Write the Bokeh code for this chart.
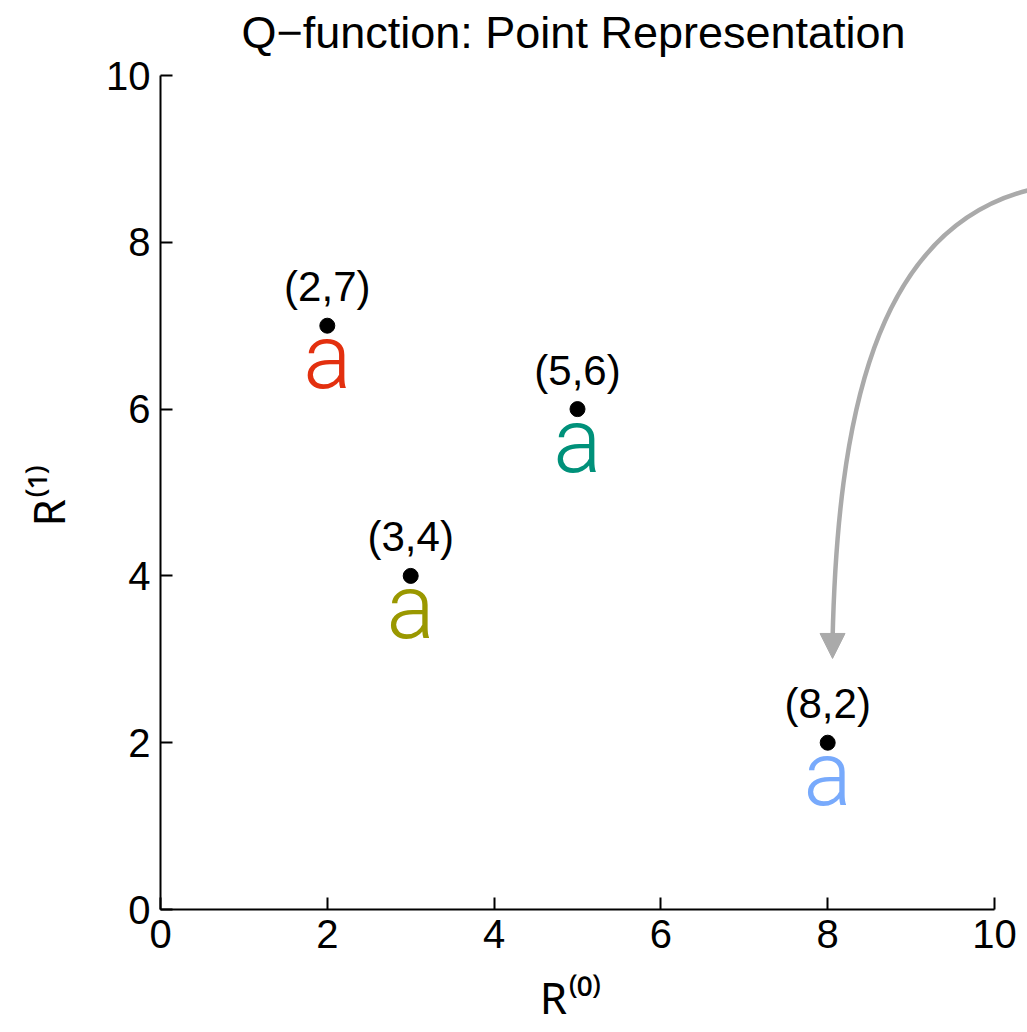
from bokeh.plotting import figure
from bokeh.models import Range1d, FixedTicker, Arrow, NormalHead, ColumnDataSource, Label
from bokeh.core.properties import value
from bokeh.embed import file_html
from bokeh.resources import INLINE

# ---- data ----
r0 = [2, 3, 5, 8]
r1 = [7, 4, 6, 2]
action_colors = ["#e3300f", "#9a9800", "#00917a", "#78aafc"]
action_text = ["a", "a", "a", "a"]
point_labels = [f"({a},{b})" for a, b in zip(r0, r1)]
ticks = [0, 2, 4, 6, 8, 10]

title_text = "Q\u2212function: Point Representation"
xlabel = "R\u207d\u2070\u207e" + "\u00a0" * 4
ylabel = "R\u207d\u00b9\u207e" + "\u00a0" * 7
FONT = "Liberation Sans"
LABEL_FONT = "Noto Sans"

W, H = 1027, 1032
# frame spans the full top of the canvas; axes are bounded to 0..10
p = figure(width=W, height=H, output_backend="svg", toolbar_location=None,
           x_range=Range1d(0, 867 / 83.4), y_range=Range1d(0, 909 / 83.4),
           min_border_left=160, min_border_right=0, min_border_top=0,
           min_border_bottom=123)
p.outline_line_color = None
p.grid.visible = False
p.background_fill_color = "white"
p.border_fill_color = "white"

for ax in (p.xaxis[0], p.yaxis[0]):
    ax.ticker = FixedTicker(ticks=ticks)
    ax.bounds = (0, 10)
    ax.axis_line_width = 2
    ax.axis_line_color = "black"
    ax.major_tick_line_width = 2
    ax.major_tick_line_color = "black"
    ax.major_tick_in = 12
    ax.major_tick_out = 0
    ax.minor_tick_line_color = None
    ax.major_label_text_font = FONT
    ax.major_label_text_font_size = "40px"
    ax.major_label_text_color = "black"
    ax.axis_label_text_font = LABEL_FONT
    ax.axis_label_text_font_size = "44px"
    ax.axis_label_text_font_style = "normal"
    ax.axis_label_text_color = "black"
p.xaxis[0].major_label_standoff = 10
p.yaxis[0].major_label_standoff = 10
p.xaxis[0].axis_label = xlabel
p.yaxis[0].axis_label = ylabel
p.xaxis[0].axis_label_standoff = 16
p.yaxis[0].axis_label_standoff = 25

# title drawn inside the (extended) frame area
p.add_layout(Label(x=4.952, y=10.516, text=title_text, text_align="center",
                   text_baseline="alphabetic", text_font=FONT, text_font_size="45px",
                   text_color="black"))

src = ColumnDataSource(dict(x=r0, y=r1, lab=point_labels, a=action_text, c=action_colors))

# gray curved arrow
p.bezier(x0=[10.396], y0=[8.621], x1=[8.058], y1=[3.225],
         cx0=[8.55], cy0=[8.141], cx1=[8.118], cy1=[5.863],
         line_color="#aaaaaa", line_width=4.5)
p.add_layout(Arrow(end=NormalHead(size=25, fill_color="#aaaaaa", line_color="#aaaaaa"),
                   x_start=8.058, y_start=3.225, x_end=8.058, y_end=3.01,
                   line_color="#aaaaaa", line_width=4.5))

p.scatter("x", "y", source=src, size=15, color="black")
p.text("x", "y", text="lab", source=src, y_offset=-39, text_align="center",
       text_baseline="alphabetic", text_font=value(FONT), text_font_size="42px",
       text_color="black")
p.text("x", "y", text="a", source=src, y_offset=32, text_align="center",
       text_baseline="alphabetic", text_font=value("Roboto Light, Lato Light, Liberation Sans"),
       text_font_size="90px", text_color="c")

open("out.html", "w").write(file_html(p, INLINE))
